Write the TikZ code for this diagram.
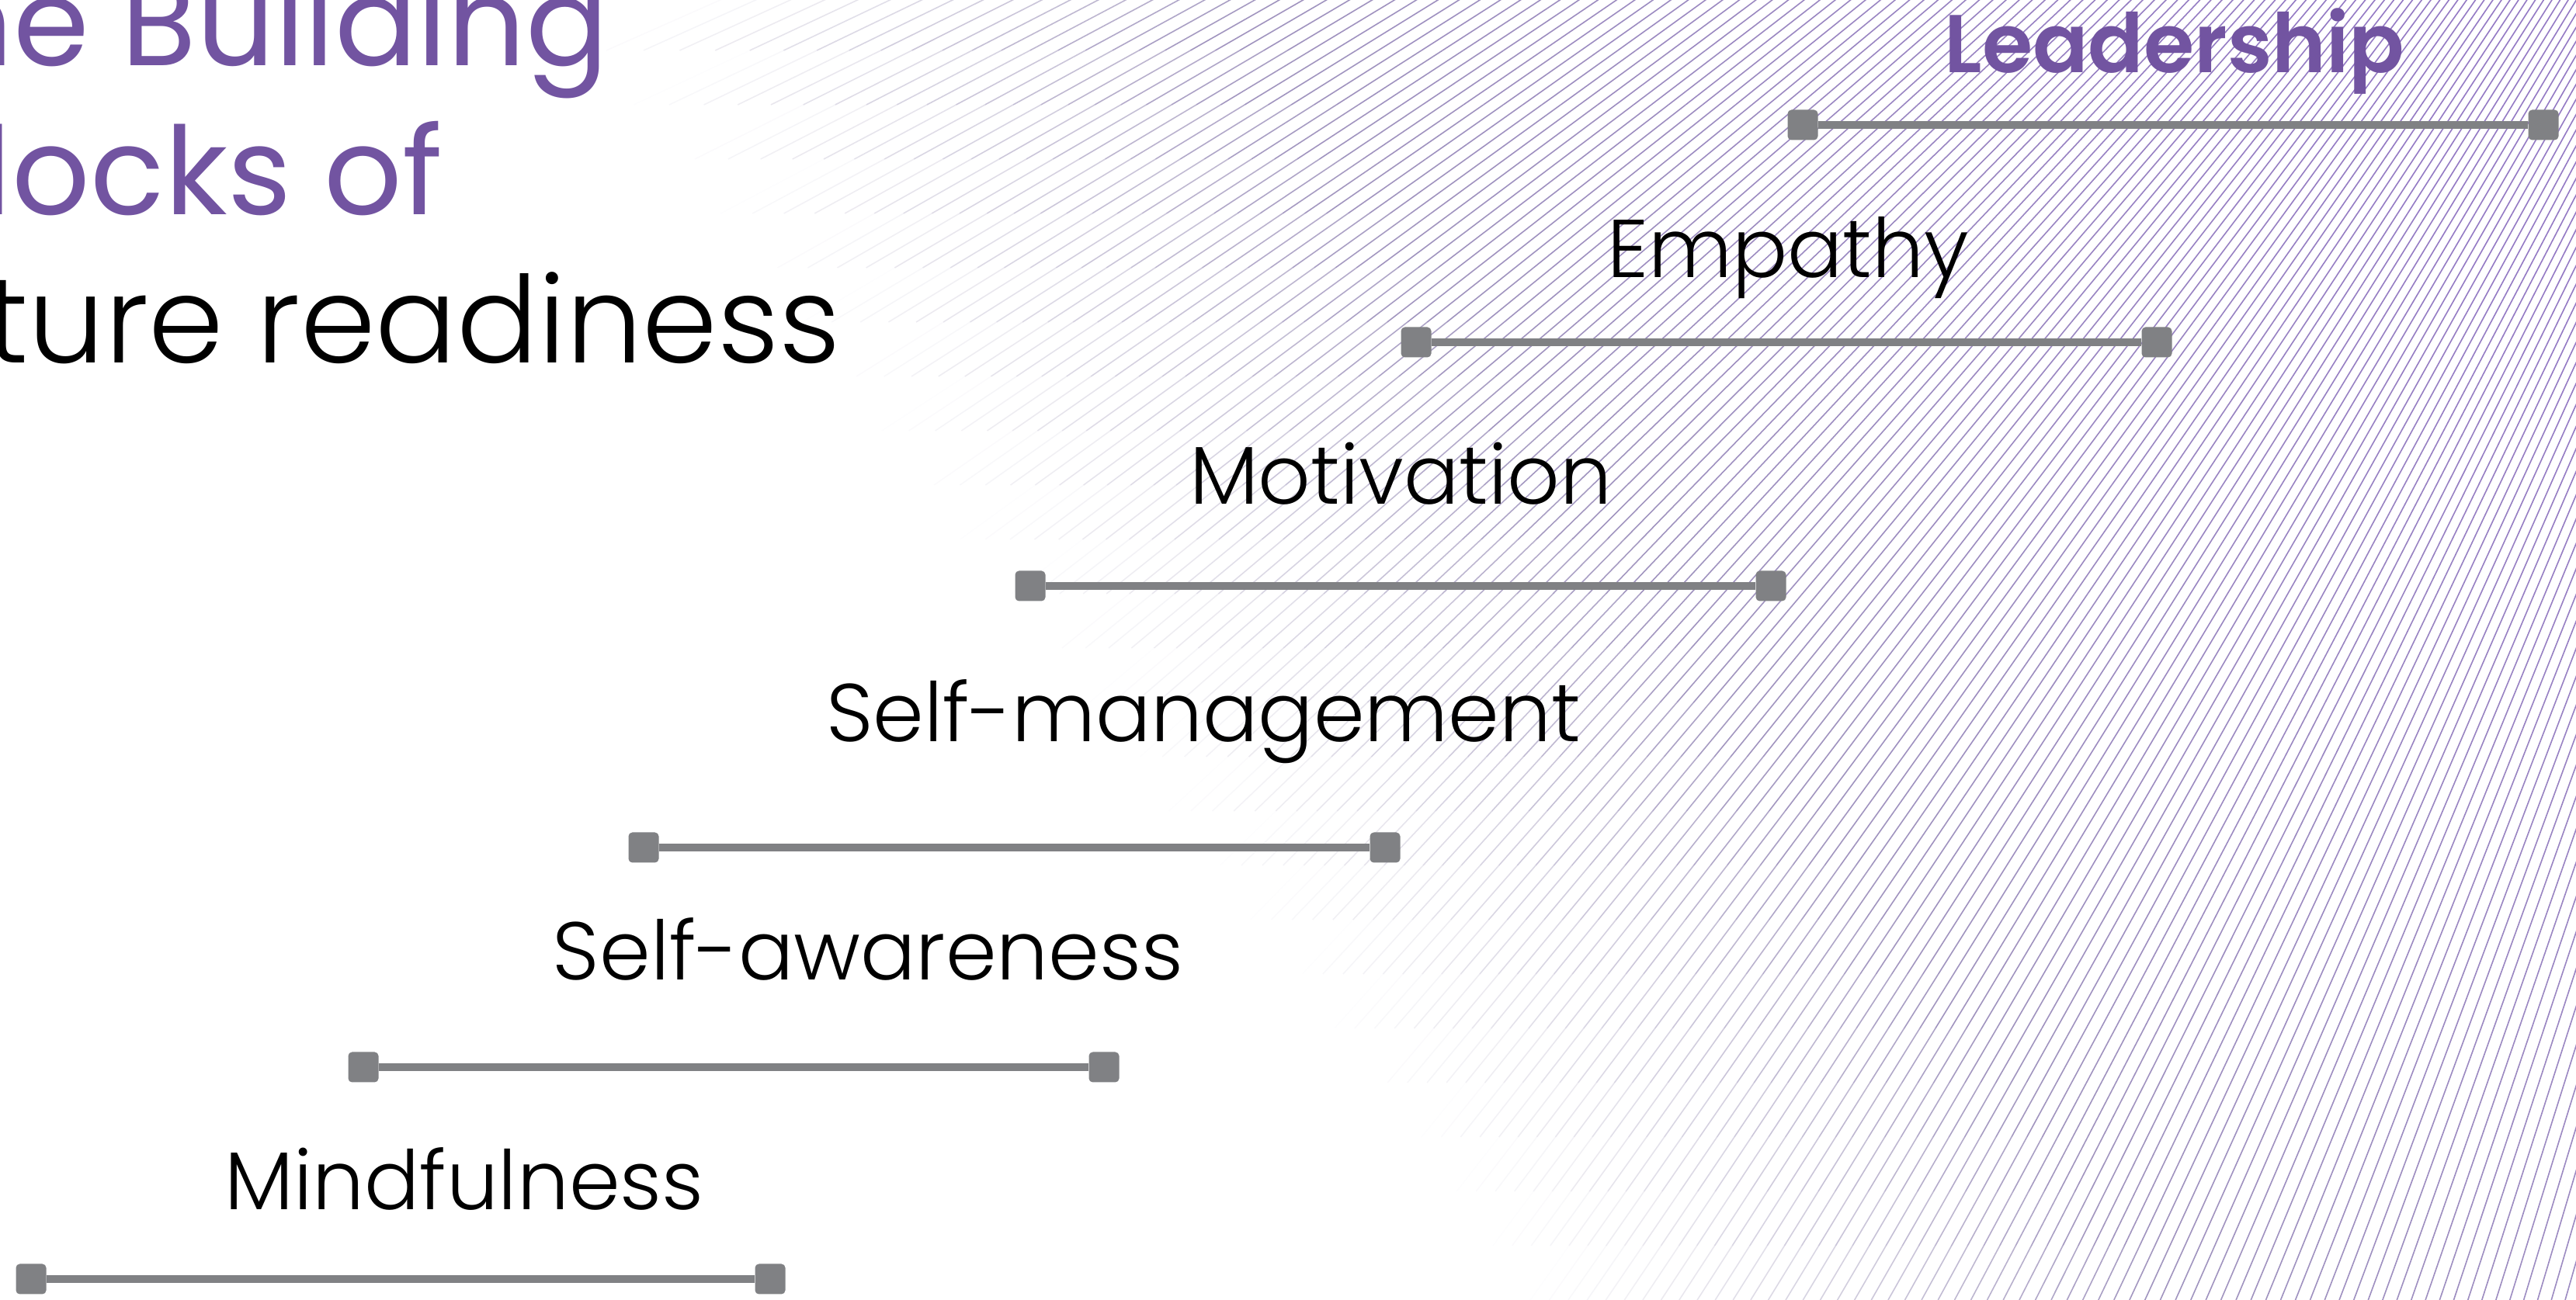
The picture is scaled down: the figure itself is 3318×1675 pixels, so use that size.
\documentclass[tikz,border=0pt]{standalone}
\usepackage{fontspec}
\setmainfont{Poppins}
\newfontfamily\poplight{Poppins}[UprightFont=* Light]
\newfontfamily\popsemi{Poppins}[UprightFont=* SemiBold]
\usepackage{tikz}

\begin{document}
\begin{tikzpicture}[x=1bp,y=1bp,
  endcap/.style={draw=none,fill=bargray,rounded corners=5bp,minimum size=39bp,inner sep=0pt},
  bar/.style={draw=bargray,line width=10bp},
  skill/.style={anchor=base,inner sep=0pt,font=\poplight\fontsize{106}{127}\selectfont},
  heading/.style={anchor=base east,inner sep=0pt,font=\fontsize{158}{190}\selectfont},
  hatch/.style={line width=1.6bp}]
%%
\definecolor{titlepurple}{RGB}{114,84,161};
\definecolor{hatchpurple}{RGB}{148,122,196};
\definecolor{hatchgray}{RGB}{168,164,188};
\definecolor{bargray}{RGB}{128,129,132};
  \path[use as bounding box] (0bp,0bp) rectangle (3318bp,1675bp);
  % background lines, fading out to the lower left
  \begin{scope}
  \clip (0,0) rectangle (3318,1675);
  \foreach \k in {0,...,171}{
    \pgfmathsetmacro\ct{cot(23+0.3*\k)}
    \foreach \s in {0,...,23}{
      \pgfmathsetmacro\ya{70*\s}
      \pgfmathsetmacro\yb{70*\s+70}
      \pgfmathsetmacro\xa{4200-(3125-\ya)*\ct}
      \pgfmathsetmacro\xb{4200-(3125-\yb)*\ct}
      \pgfmathtruncatemacro\lvl{max(0,min(100,((\xa+\xb)/2-780-0.728*(1675-(\ya+\yb)/2))/22))}
      \ifnum\lvl>0
        \pgfmathtruncatemacro\vis{min(100,2.8*\lvl)}
        \draw[hatch,draw=hatchpurple!\lvl!hatchgray!\vis!white] (\xa,\ya) -- (\xb,\yb);
      \fi
    }
  }
  \end{scope}
  % title, cut at the left edge
  \node (title_a) at (784bp,1590bp) [heading,text=titlepurple] {The Building};
  \node (title_b) at (570bp,1398bp) [heading,text=titlepurple] {Blocks of};
  \node (title_c) at (1083bp,1207bp) [heading,font=\poplight\fontsize{156}{190}\selectfont] {Future readiness};
  % steps
  \node (mind) at (598bp,116bp) [skill] {Mindfulness};
  \node (mind_l) at (40bp,27bp) [endcap] {};
  \node (mind_r) at (992bp,27bp) [endcap] {};
  \node (aware) at (1118bp,412bp) [skill] {Self-awareness};
  \node (aware_l) at (468bp,300bp) [endcap] {};
  \node (aware_r) at (1422bp,300bp) [endcap] {};
  \node (manage) at (1550bp,719bp) [skill] {Self-management};
  \node (manage_l) at (829bp,583bp) [endcap] {};
  \node (manage_r) at (1784bp,583bp) [endcap] {};
  \node (motiv) at (1804bp,1025bp) [skill] {Motivation};
  \node (motiv_l) at (1327bp,920bp) [endcap] {};
  \node (motiv_r) at (2281bp,920bp) [endcap] {};
  \node (empathy) at (2303bp,1317bp) [skill] {Empathy};
  \node (empathy_l) at (1824bp,1234bp) [endcap] {};
  \node (empathy_r) at (2778bp,1234bp) [endcap] {};
  \node (lead) at (2801bp,1581bp) [skill,text=titlepurple,font=\popsemi\fontsize{106}{127}\selectfont] {Leadership};
  \node (lead_l) at (2322bp,1514bp) [endcap] {};
  \node (lead_r) at (3276bp,1514bp) [endcap] {};
  \draw [bar] (mind_l) -- (mind_r);
  \draw [bar] (aware_l) -- (aware_r);
  \draw [bar] (manage_l) -- (manage_r);
  \draw [bar] (motiv_l) -- (motiv_r);
  \draw [bar] (empathy_l) -- (empathy_r);
  \draw [bar] (lead_l) -- (lead_r);
%
\end{tikzpicture}
\end{document}
